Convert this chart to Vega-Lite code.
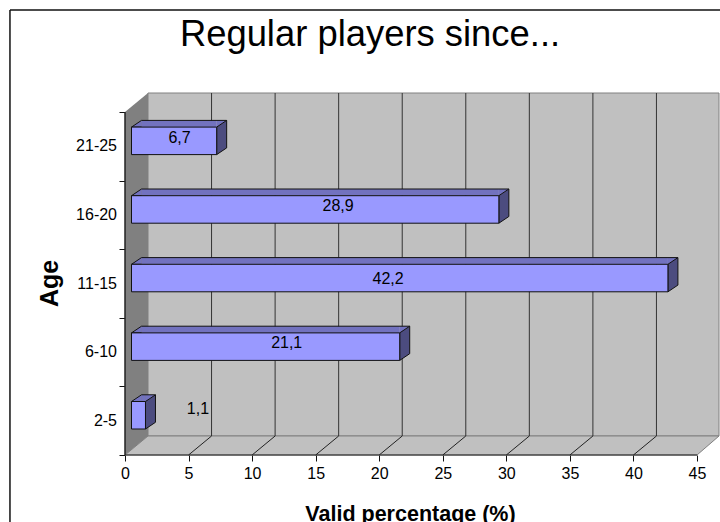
{
"$schema":"https://vega.github.io/schema/vega-lite/v6.json",
"width":594,"height":362,
"autosize":{"type":"none"},
"padding":{"left":125,"top":93,"right":1,"bottom":67},
"background":"white",
"config":{"view":{"stroke":null},"font":"Liberation Sans"},
"title":{"text":"Regular players since...","font":"Liberation Sans","fontSize":36.4,"fontWeight":"normal","color":"#000000","anchor":"middle","dx":-52,"offset":-44},
"datasets":{
"bars":[
{"age":"2-5","i":0,"mid":0.5,"value":1.1,"label":"1,1","labelAt":5.74,"labelRow":0.671},
{"age":"6-10","i":1,"mid":1.5,"value":21.1,"label":"21,1","labelAt":12.72,"labelRow":1.637},
{"age":"11-15","i":2,"mid":2.5,"value":42.2,"label":"42,2","labelAt":20.7,"labelRow":2.566},
{"age":"16-20","i":3,"mid":3.5,"value":28.9,"label":"28,9","labelAt":16.76,"labelRow":3.63},
{"age":"21-25","i":4,"mid":4.5,"value":6.7,"label":"6,7","labelAt":4.29,"labelRow":4.621}
],
"ticks":[{"tick":5},{"tick":10},{"tick":15},{"tick":20},{"tick":25},{"tick":30},{"tick":35},{"tick":40}],
"one":[{}]
},
"data":{"name":"bars"},
"layer":[
{"data":{"name":"one"},"mark":{"type":"rect","fill":"#C0C0C0","stroke":"#808080","strokeWidth":1},
"encoding":{
"x":{"datum":1.81,"type":"quantitative","scale":{"domain":[0,46.73],"nice":false,"zero":false},
"axis":{"values":[0,5,10,15,20,25,30,35,40,45],"grid":false,"domain":false,"tickColor":"#111111","tickSize":6,"labelFontSize":16,"labelFont":"Liberation Sans","labelColor":"#000000","labelPadding":4,"labelAngle":0,"labelFlush":false,"labelOverlap":false,"title":"Valid percentage (%)","titleFont":"Liberation Sans","titleFontSize":21.5,"titleFontWeight":"bold","titleColor":"#000000","titleX":285,"titleY":65,"titleBaseline":"alphabetic","titleAnchor":"middle"}},
"x2":{"datum":46.73},
"y":{"datum":0.277,"type":"quantitative","scale":{"domain":[0,5.277],"nice":false,"zero":false},
"axis":{"values":[0,1,2,3,4,5],"grid":false,"domain":false,"tickColor":"#111111","tickSize":6,"labels":false,"title":"Age","titleFont":"Liberation Sans","titleFontSize":25,"titleFontWeight":"bold","titleColor":"#000000","titleX":-68,"titleY":190,"titleBaseline":"alphabetic","titleAnchor":"middle","titleAngle":-90}},
"y2":{"datum":5.277}}},
{"data":{"values":[{"fx":0,"lo":0,"hi":0},{"fx":1.81,"lo":0,"hi":0.277},{"fx":45,"lo":0,"hi":0.277},{"fx":46.73,"lo":0.277,"hi":0.277}]},
"mark":{"type":"area","fill":"#C0C0C0","stroke":"#808080","strokeWidth":1},
"encoding":{"x":{"field":"fx","type":"quantitative"},"y":{"field":"lo","type":"quantitative"},"y2":{"field":"hi"}}},
{"data":{"values":[{"fx":0,"lo":0,"hi":5},{"fx":1.81,"lo":0.277,"hi":5.277}]},
"mark":{"type":"area","fill":"#808080"},
"encoding":{"x":{"field":"fx","type":"quantitative"},"y":{"field":"lo","type":"quantitative"},"y2":{"field":"hi"}}},
{"data":{"name":"ticks"},"mark":{"type":"rule","color":"#333333","strokeWidth":1,"xOffset":23},
"encoding":{"x":{"field":"tick","type":"quantitative"},"y":{"datum":0.277,"type":"quantitative"},"y2":{"datum":5.277}}},
{"data":{"name":"ticks"},"mark":{"type":"point","shape":"M0,0L23,-19","size":4,"filled":false,"stroke":"#222222","strokeWidth":1,"opacity":1},
"encoding":{"x":{"field":"tick","type":"quantitative"},"y":{"datum":0,"type":"quantitative"}}},
{"data":{"name":"one"},"mark":{"type":"rule","color":"#222222","strokeWidth":1.5},
"encoding":{"x":{"datum":0,"type":"quantitative"},"y":{"datum":0,"type":"quantitative"},"y2":{"datum":5}}},
{"data":{"name":"one"},"mark":{"type":"rule","color":"#222222","strokeWidth":1},
"encoding":{"x":{"datum":0,"type":"quantitative"},"x2":{"datum":45},"y":{"datum":0,"type":"quantitative"}}},
{"data":{"name":"one"},"mark":{"type":"rule","color":"#111111","strokeWidth":1.5},
"encoding":{"x":{"datum":-9.05,"type":"quantitative"},"y":{"datum":6.487,"type":"quantitative"},"y2":{"datum":-1.1}}},
{"data":{"name":"one"},"mark":{"type":"rule","color":"#111111","strokeWidth":1.5},
"encoding":{"x":{"datum":-9.05,"type":"quantitative"},"x2":{"datum":47},"y":{"datum":6.487,"type":"quantitative"}}},
{"mark":{"type":"rect","fill":"#7272BF","xOffset":6.5,"x2Offset":16.5,"yOffset":-60.2,"y2Offset":-53.5},
"encoding":{"x":{"field":"value","type":"quantitative"},"x2":{"datum":0},"y":{"field":"i","type":"quantitative"},"y2":{"field":"i"}}},
{"mark":{"type":"point","shape":"M10,0L0,0L10,-6.7","size":4,"filled":true,"fill":"#7272BF","stroke":"#111111","strokeWidth":1,"opacity":1,"xOffset":6.5,"yOffset":-53.5},
"encoding":{"x":{"datum":0,"type":"quantitative"},"y":{"field":"i","type":"quantitative"}}},
{"mark":{"type":"point","shape":"M0,0L0,-6.7L10,-6.7Z","size":4,"filled":true,"fill":"#7272BF","opacity":1,"xOffset":6.5,"yOffset":-53.5},
"encoding":{"x":{"field":"value","type":"quantitative"},"y":{"field":"i","type":"quantitative"}}},
{"mark":{"type":"point","shape":"M0,0L10,-6.7L10,20.8L0,27.5Z","size":4,"filled":true,"fill":"#4C4C7F","stroke":"#111111","strokeWidth":1,"opacity":1,"xOffset":6.5,"yOffset":-53.5},
"encoding":{"x":{"field":"value","type":"quantitative"},"y":{"field":"i","type":"quantitative"}}},
{"mark":{"type":"rule","color":"#111111","strokeWidth":1,"xOffset":16.5,"x2Offset":16.5,"yOffset":-60.2},
"encoding":{"x":{"field":"value","type":"quantitative"},"x2":{"datum":0},"y":{"field":"i","type":"quantitative"}}},
{"mark":{"type":"rect","fill":"#9999FF","stroke":"#111111","strokeWidth":1,"xOffset":6.5,"x2Offset":6.5,"yOffset":-53.5,"y2Offset":-26},
"encoding":{"x":{"field":"value","type":"quantitative"},"x2":{"datum":0},"y":{"field":"i","type":"quantitative"},"y2":{"field":"i"}}},
{"mark":{"type":"text","font":"Liberation Sans","fontSize":16,"color":"#000000","align":"center","baseline":"middle"},
"encoding":{"x":{"field":"labelAt","type":"quantitative"},"y":{"field":"labelRow","type":"quantitative"},"text":{"field":"label"}}},
{"mark":{"type":"text","font":"Liberation Sans","fontSize":16,"color":"#000000","align":"right","baseline":"middle","dx":-8},
"encoding":{"x":{"datum":0,"type":"quantitative"},"y":{"field":"mid","type":"quantitative"},"text":{"field":"age"}}}
]
}
